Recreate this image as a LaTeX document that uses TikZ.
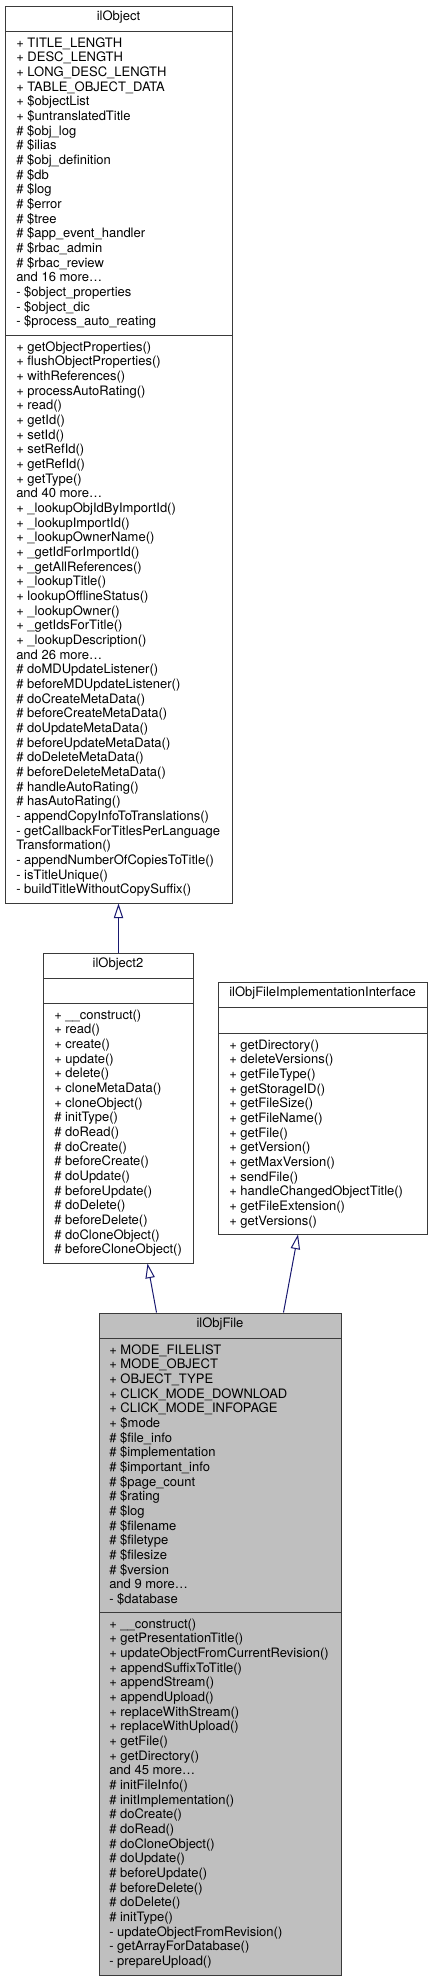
\documentclass[tikz,border=0pt]{standalone}
\usepackage{fontspec}
\setmainfont{TeX Gyre Heros}
\usetikzlibrary{calc, positioning, fit}
\usetikzlibrary{arrows.meta}

\definecolor{boxline}{HTML}{3A3A3A}
\definecolor{edgeblue}{HTML}{191970}
\definecolor{hlfill}{HTML}{BFBFBF}

\tikzset{
  classbox/.style={draw=boxline, line width=0.75pt, inner sep=0pt},
  compsep/.style={draw=boxline, line width=0.75pt},
  classname/.style={anchor=base, inner sep=0pt},
  member/.style={anchor=base west, inner sep=0pt},
  inherit/.style={draw=edgeblue, line width=0.75pt,
    {Triangle[open, length=11pt, width=7pt, fill=white]}-}
}

\begin{document}
\begin{tikzpicture}[x=0.75pt, y=-0.75pt, font=\fontsize{9.75}{11}\selectfont]
\useasboundingbox[fill=white] (0,0) rectangle (433,1981);
\def\dy{14.67}

% ilObject
\node[classbox, fit={(5,6) (232,903)}] (obj) {};
\draw[compsep] (5,31) -- (232,31);
\draw[compsep] (5,335) -- (232,335);
\node[classname] (objT) at ($(obj.north)+(0,15)$) {ilObject};
\foreach \t [count=\i from 0] in {+ TITLE\_LENGTH, + DESC\_LENGTH,
    + LONG\_DESC\_LENGTH, + TABLE\_OBJECT\_DATA, + \$objectList,
    + \$untranslatedTitle, \# \$obj\_log, \# \$ilias, \# \$obj\_definition,
    \# \$db, \# \$log, \# \$error, \# \$tree, \# \$app\_event\_handler,
    \# \$rbac\_admin, \# \$rbac\_review, and 16 more\ldots,
    - \$object\_properties, - \$object\_dic, - \$process\_auto\_reating}
  \node[member] (objA\i) at (16, {47+\dy*\i}) {\t};
\foreach \t [count=\i from 0] in {+ getObjectProperties(),
    + flushObjectProperties(), + withReferences(), + processAutoRating(),
    + read(), + getId(), + setId(), + setRefId(), + getRefId(), + getType(),
    and 40 more\ldots, + \_lookupObjIdByImportId(), + \_lookupImportId(),
    + \_lookupOwnerName(), + \_getIdForImportId(), + \_getAllReferences(),
    + \_lookupTitle(), + lookupOfflineStatus(), + \_lookupOwner(),
    + \_getIdsForTitle(), + \_lookupDescription(), and 26 more\ldots,
    \# doMDUpdateListener(), \# beforeMDUpdateListener(),
    \# doCreateMetaData(), \# beforeCreateMetaData(), \# doUpdateMetaData(),
    \# beforeUpdateMetaData(), \# doDeleteMetaData(),
    \# beforeDeleteMetaData(), \# handleAutoRating(), \# hasAutoRating(),
    - appendCopyInfoToTranslations(), - getCallbackForTitlesPerLanguage,
    Transformation(), - appendNumberOfCopiesToTitle(), - isTitleUnique(),
    - buildTitleWithoutCopySuffix()}
  \node[member] (objM\i) at (16, {351+\dy*\i}) {\t};

% ilObject2
\node[classbox, fit={(43,953) (193,1263)}] (obj2) {};
\draw[compsep] (43,978) -- (193,978);
\draw[compsep] (43,1003) -- (193,1003);
\node[classname] (obj2T) at ($(obj2.north)+(0,15)$) {ilObject2};
\foreach \t [count=\i from 0] in {+ \_\_construct(), + read(), + create(),
    + update(), + delete(), + cloneMetaData(), + cloneObject(),
    \# initType(), \# doRead(), \# doCreate(), \# beforeCreate(),
    \# doUpdate(), \# beforeUpdate(), \# doDelete(), \# beforeDelete(),
    \# doCloneObject(), \# beforeCloneObject()}
  \node[member] (obj2M\i) at (54, {1019+\dy*\i}) {\t};

% ilObjFileImplementationInterface
\node[classbox, fit={(218,982) (427,1234)}] (iface) {};
\draw[compsep] (218,1007) -- (427,1007);
\draw[compsep] (218,1033) -- (427,1033);
\node[classname] (ifaceT) at ($(iface.north)+(0,15)$) {ilObjFileImplementationInterface};
\foreach \t [count=\i from 0] in {+ getDirectory(), + deleteVersions(),
    + getFileType(), + getStorageID(), + getFileSize(), + getFileName(),
    + getFile(), + getVersion(), + getMaxVersion(), + sendFile(),
    + handleChangedObjectTitle(), + getFileExtension(), + getVersions()}
  \node[member] (ifaceM\i) at (229, {1049+\dy*\i}) {\t};

% ilObjFile
\node[classbox, fill=hlfill, fit={(99,1313) (341,1975)}] (file) {};
\draw[compsep] (99,1338) -- (341,1338);
\draw[compsep] (99,1612) -- (341,1612);
\node[classname] (fileT) at ($(file.north)+(0,15)$) {ilObjFile};
\foreach \t [count=\i from 0] in {+ MODE\_FILELIST, + MODE\_OBJECT,
    + OBJECT\_TYPE, + CLICK\_MODE\_DOWNLOAD, + CLICK\_MODE\_INFOPAGE,
    + \$mode, \# \$file\_info, \# \$implementation, \# \$important\_info,
    \# \$page\_count, \# \$rating, \# \$log, \# \$filename, \# \$filetype,
    \# \$filesize, \# \$version, and 9 more\ldots, - \$database}
  \node[member] (fileA\i) at (109, {1354+\dy*\i}) {\t};
\foreach \t [count=\i from 0] in {+ \_\_construct(), + getPresentationTitle(),
    + updateObjectFromCurrentRevision(), + appendSuffixToTitle(),
    + appendStream(), + appendUpload(), + replaceWithStream(),
    + replaceWithUpload(), + getFile(), + getDirectory(), and 45 more\ldots,
    \# initFileInfo(), \# initImplementation(), \# doCreate(), \# doRead(),
    \# doCloneObject(), \# doUpdate(), \# beforeUpdate(), \# beforeDelete(),
    \# doDelete(), \# initType(), - updateObjectFromRevision(),
    - getArrayForDatabase(), - prepareUpload()}
  \node[member] (fileM\i) at (109, {1628+\dy*\i}) {\t};

% generalisations
\draw[inherit] (obj.south) -- (obj.south |- obj2.north);
\draw[inherit] ($(obj2.south)+(29.5,0)$) -- ($(file.north west)+(58,0)$);
\draw[inherit] ($(iface.south)+(-24.5,0)$) -- ($(file.north east)+(-58,0)$);
\end{tikzpicture}
\end{document}
